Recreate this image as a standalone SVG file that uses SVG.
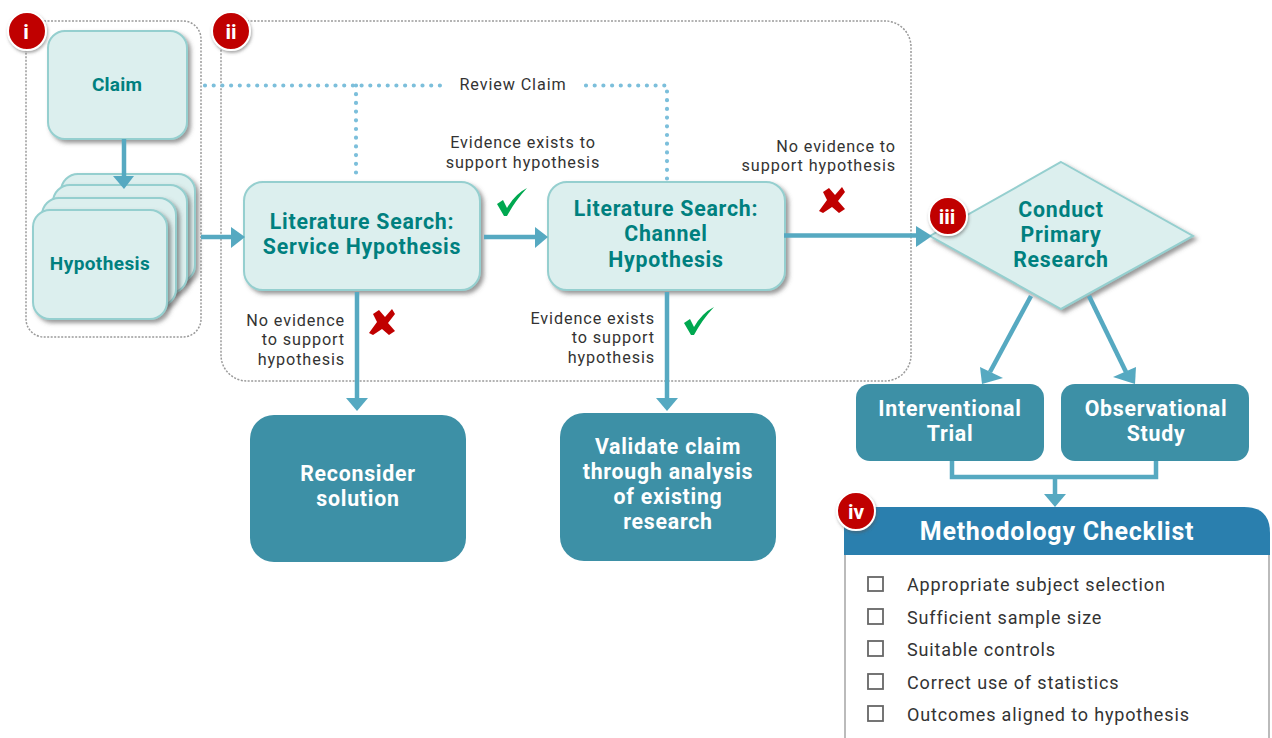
<svg xmlns="http://www.w3.org/2000/svg" width="1272" height="738" viewBox="0 0 1272 738">
<defs>
<style>
text{font-family:Roboto,Lato,"Noto Sans",sans-serif;text-anchor:middle}
.lt{fill:#dcefee;stroke:#95cfcf;stroke-width:2;filter:url(#sh)}
.dk{fill:#3d90a6}
.tl{fill:#00807f;font-weight:700;font-size:21.300px;letter-spacing:.75px}
.tw{fill:#fff;font-weight:700;font-size:21.300px;letter-spacing:.75px}
.lab{fill:#333;font-size:16.200px;letter-spacing:.9px}
.endt{text-anchor:end}
.group{fill:none;stroke:#9a9a9a;stroke-width:1.5;stroke-dasharray:2 1.5}
.con{fill:none;stroke:#56a9c1;stroke-width:4.500}
.dot{fill:none;stroke:#7cbfdb;stroke-width:4.200;stroke-linecap:round;stroke-dasharray:0 8.700}
.ar{fill:#56a9c1}
.badge{fill:#c00000;stroke:#fff;stroke-width:2;filter:url(#sh2)}
.bt{fill:#fff;font-weight:700;font-size:21px}
.cb{fill:#fff;stroke:#666;stroke-width:1.800}
.item{fill:#333;font-size:18px;letter-spacing:.85px;text-anchor:start}
.x{fill:#c00000}
.c{fill:#00a850}
</style>
<filter id="sh" x="-10%" y="-10%" width="125%" height="125%"><feDropShadow dx="3" dy="3" stdDeviation="2" flood-color="#555" flood-opacity=".6"/></filter>
<filter id="sh2" x="-20%" y="-20%" width="150%" height="150%"><feDropShadow dx="1" dy="2" stdDeviation="1.500" flood-color="#555" flood-opacity=".5"/></filter>
<path id="xm" d="M-13 11L-5 0L-9 -8L-3 -12L3 -5L10 -13L13 -8L6 1L13 9L7 13L0 7L-9 13Z"/>
<path id="ck" d="M-15 2L-9 -2L-5 6Q3 -8 15 -14Q3 -1 -5 14L-8 14Z"/>
</defs>
<g id="groups">
<rect id="group-i" class="group" x="26" y="21" width="175" height="316" rx="18"/>
<rect id="group-ii" class="group" x="221" y="21" width="690" height="360" rx="26"/>
</g>
<g id="claim"><rect class="lt" x="48" y="31" width="139" height="108" rx="17"/><text class="tl" x="117" y="91" style="font-size:19px;letter-spacing:.2px">Claim</text></g>
<g id="hypothesis">
<rect class="lt" x="61" y="174" width="134" height="108" rx="17"/>
<rect class="lt" x="53" y="185" width="134" height="108" rx="17"/>
<rect class="lt" x="42" y="198" width="134" height="108" rx="17"/>
<rect class="lt" x="33" y="210" width="134" height="109" rx="17"/>
<text class="tl" x="100" y="270" style="font-size:19px;letter-spacing:.4px">Hypothesis</text>
</g>
<g id="service"><rect class="lt" x="244" y="182" width="236" height="108" rx="19"/>
<text class="tl" y="229"><tspan x="362">Literature Search:</tspan><tspan x="362" dy="25">Service Hypothesis</tspan></text></g>
<g id="channel"><rect class="lt" x="548" y="182" width="237" height="108" rx="19"/>
<text class="tl" y="216"><tspan x="666">Literature Search:</tspan><tspan x="666" dy="25">Channel</tspan><tspan x="666" dy="26">Hypothesis</tspan></text></g>
<g id="primary"><path class="lt" d="M1061 162L1193 236L1061 309L930 236Z"/>
<text class="tl" y="217"><tspan x="1061">Conduct</tspan><tspan x="1061" dy="25">Primary</tspan><tspan x="1061" dy="25">Research</tspan></text></g>
<g id="reconsider"><rect class="dk" x="250" y="415" width="216" height="147" rx="24"/>
<text class="tw" y="481"><tspan x="358">Reconsider</tspan><tspan x="358" dy="25">solution</tspan></text></g>
<g id="validate"><rect class="dk" x="560" y="413" width="216" height="148" rx="24"/>
<text class="tw" y="454"><tspan x="668">Validate claim</tspan><tspan x="668" dy="25">through analysis</tspan><tspan x="668" dy="25">of existing</tspan><tspan x="668" dy="25">research</tspan></text></g>
<g id="interventional"><rect class="dk" x="856" y="384" width="188" height="77" rx="14"/>
<text class="tw" y="416"><tspan x="950">Interventional</tspan><tspan x="950" dy="25">Trial</tspan></text></g>
<g id="observational"><rect class="dk" x="1061" y="384" width="188" height="77" rx="14"/>
<text class="tw" y="416"><tspan x="1156">Observational</tspan><tspan x="1156" dy="25">Study</tspan></text></g>
<g id="checklist">
<rect x="845" y="550" width="424" height="200" fill="#fff" stroke="#bbb" stroke-width="2"/>
<path d="M844 555V529Q844 507 866 507H1244Q1270 507 1270 533V555Z" fill="#2a7fae"/>
<text class="tw" x="1057" y="540" style="font-size:25px">Methodology Checklist</text>
<rect class="cb" x="868" y="577" width="15" height="14"/><text class="item" x="907" y="591">Appropriate subject selection</text>
<rect class="cb" x="868" y="609" width="15" height="15"/><text class="item" x="907" y="624">Sufficient sample size</text>
<rect class="cb" x="868" y="641" width="15" height="15"/><text class="item" x="907" y="656">Suitable controls</text>
<rect class="cb" x="868" y="674" width="15" height="15"/><text class="item" x="907" y="689">Correct use of statistics</text>
<rect class="cb" x="868" y="706" width="15" height="15"/><text class="item" x="907" y="721">Outcomes aligned to hypothesis</text>
</g>
<g id="connectors">
<path class="con" d="M124 139V178"/><path class="ar" d="M113 176H134L124 189Z"/>
<path class="con" d="M201 237H233"/><path class="ar" d="M231 227L245 237L231 248Z"/>
<path class="con" d="M484 237H537"/><path class="ar" d="M535 227L548 237L535 248Z"/>
<path class="con" d="M784 235.500H918"/><path class="ar" d="M916 226L932 236L916 247Z"/>
<path class="con" d="M357 292V400"/><path class="ar" d="M346 398H368L357 411Z"/>
<path class="con" d="M667 292V400"/><path class="ar" d="M656 398H678L667 411Z"/>
<path class="con" d="M1031 296L990 372"/><path class="ar" d="M980 367L1003 378L982 384Z"/>
<path class="con" d="M1089 296L1126 372"/><path class="ar" d="M1113 377L1136 367L1135 384Z"/>
<path class="con" d="M952 461V477H1156V461M1055 477V497"/><path class="ar" d="M1044 494H1066L1055 507Z"/>
<path class="dot" d="M205 85.500H444"/><path class="dot" d="M586 85.500H667V180"/><path class="dot" d="M356 85.500V180"/>
</g>
<g id="labels">
<text class="lab" x="513" y="90">Review Claim</text>
<text class="lab" y="147.500"><tspan x="523">Evidence exists to</tspan><tspan x="523" dy="20">support hypothesis</tspan></text>
<text class="lab endt" y="151.500"><tspan x="896">No evidence to</tspan><tspan x="896" dy="19.500">support hypothesis</tspan></text>
<text class="lab endt" y="325.500"><tspan x="345">No evidence</tspan><tspan x="345" dy="19.500">to support</tspan><tspan x="345" dy="19.500">hypothesis</tspan></text>
<text class="lab endt" y="323.500"><tspan x="655">Evidence exists</tspan><tspan x="655" dy="19.500">to support</tspan><tspan x="655" dy="19.500">hypothesis</tspan></text>
</g>
<g id="marks">
<use href="#xm" class="x" x="382" y="322"/><use href="#xm" class="x" x="832" y="200"/>
<use href="#ck" class="c" x="512" y="202"/><use href="#ck" class="c" x="699" y="321"/>
</g>
<g id="badge-i"><circle class="badge" cx="27" cy="31" r="19"/><text class="bt" x="26" y="39">i</text></g>
<g id="badge-ii"><circle class="badge" cx="231" cy="31" r="19"/><text class="bt" x="231" y="39">ii</text></g>
<g id="badge-iii"><circle class="badge" cx="948" cy="216" r="19"/><text class="bt" x="947" y="224">iii</text></g>
<g id="badge-iv"><circle class="badge" cx="856" cy="511" r="19"/><text class="bt" x="856" y="519">iv</text></g>
</svg>
